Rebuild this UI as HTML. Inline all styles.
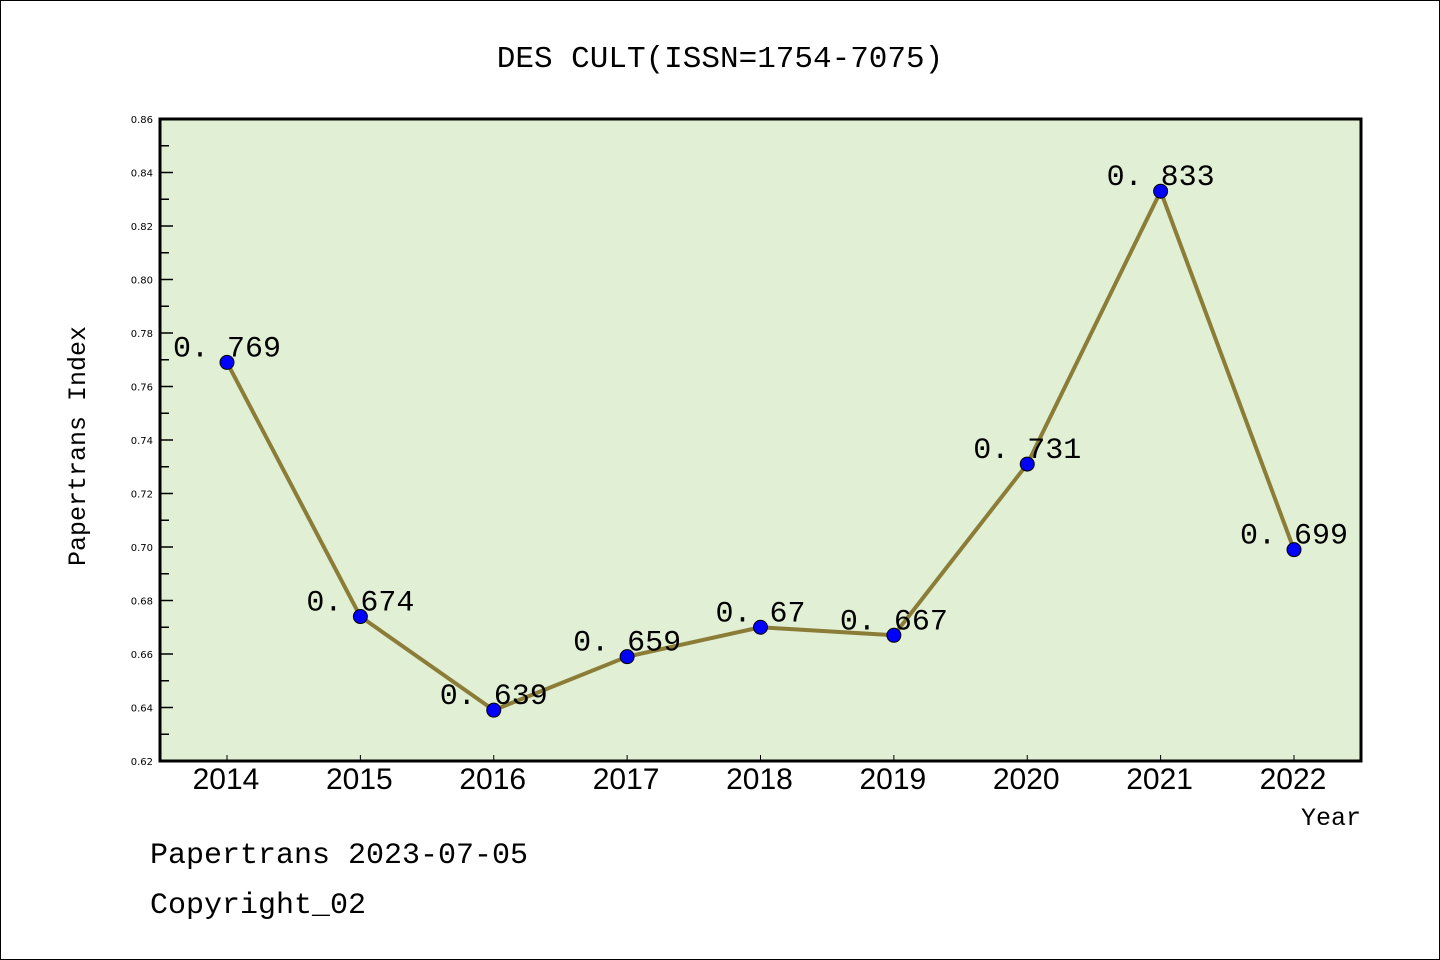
<!DOCTYPE html>
<html><head><meta charset="utf-8"><style>
html,body{margin:0;padding:0;background:#fff;}
svg{display:block;}
</style></head><body>
<svg id="chart" width="1440" height="960" xmlns="http://www.w3.org/2000/svg">
<rect x="0.5" y="0.5" width="1439" height="959" fill="#fff" stroke="#000" stroke-width="1"/>
<text x="720" y="67" text-anchor="middle" font-family="'Liberation Mono','WenQuanYi Zen Hei',monospace" font-size="31">DES CULT(ISSN=1754-7075)</text>
<rect x="160" y="119" width="1201" height="642" fill="#e1efd4"/>
<g id="axes"></g>
<g id="series"></g>
<rect x="160" y="119" width="1201" height="642" fill="none" stroke="#000" stroke-width="3"/>
<text transform="translate(85,446) rotate(-90)" text-anchor="middle" font-family="'Liberation Mono',monospace" font-size="25">Papertrans Index</text>
<text x="1331" y="825" text-anchor="middle" font-family="'Liberation Mono',monospace" font-size="25">Year</text>
<text x="150" y="863" font-family="'Liberation Mono',monospace" font-size="30">Papertrans 2023-07-05</text>
<text x="150" y="913" font-family="'Liberation Mono',monospace" font-size="30">Copyright_02</text>
</svg>
<script>
const categories = ["2014","2015","2016","2017","2018","2019","2020","2021","2022"];
const values = [0.769,0.674,0.639,0.659,0.67,0.667,0.731,0.833,0.699];
const valueLabels = ["0.769","0.674","0.639","0.659","0.67","0.667","0.731","0.833","0.699"];
const yTicks = [0.62,0.64,0.66,0.68,0.70,0.72,0.74,0.76,0.78,0.80,0.82,0.84,0.86];

const NS = "http://www.w3.org/2000/svg";
const yMin = 0.62, yMax = 0.86, plotTop = 119, plotBottom = 761;
function yScale(v){ return plotBottom - (v - yMin) / (yMax - yMin) * (plotBottom - plotTop); }
function xScale(i){ return 227 + i * (1294 - 227) / (categories.length - 1); }
function mk(tag, attrs, parent){ const e = document.createElementNS(NS, tag); for (const k in attrs) e.setAttribute(k, attrs[k]); parent.appendChild(e); return e; }

const axes = document.getElementById('axes');
yTicks.forEach((t, i) => {
  const y = yScale(t);
  const tk = mk('line', {x1:160, x2:173, y1:y, y2:y, stroke:'#000', 'stroke-width':1.5}, axes);
  
  
  const lb = mk('text', {x:153, y:y+4, 'text-anchor':'end', 'font-family':"'DejaVu Sans',sans-serif", 'font-size':10}, axes);
  lb.textContent = t.toFixed(2);
  
  
  if (i < yTicks.length - 1) {
    const ym = yScale(t + 0.01);
    const mn = mk('line', {x1:160, x2:169, y1:ym, y2:ym, stroke:'#000', 'stroke-width':1.5}, axes);
    
    
  }
});
categories.forEach((c, i) => {
  const x = xScale(i);
  const tk = mk('line', {x1:x, x2:x, y1:plotBottom, y2:plotBottom-6, stroke:'#000', 'stroke-width':1}, axes);
  
  
  const lb = mk('text', {x:x-1, y:789, 'text-anchor':'middle', 'font-family':"'Liberation Sans',sans-serif", 'font-size':30}, axes);
  lb.textContent = c;
  
  
});

const series = document.getElementById('series');
const pts = values.map((v, i) => xScale(i) + ',' + yScale(v)).join(' ');
const line = mk('polyline', {points:pts, fill:'none', stroke:'#8b7d38', 'stroke-width':4, 'stroke-linejoin':'round'}, series);


values.forEach((v, i) => {
  const x = xScale(i), y = yScale(v);
  const c = mk('circle', {cx:x, cy:y, r:7, fill:'#0000ff', stroke:'#000', 'stroke-width':1}, series);
  
  
  const t = mk('text', {x:x, y:y-6, 'text-anchor':'middle', 'font-family':"'Liberation Mono',monospace", 'font-size':30}, series);
  t.textContent = valueLabels[i].replace('.', '. ');
  
  
});
</script>
</body></html>
